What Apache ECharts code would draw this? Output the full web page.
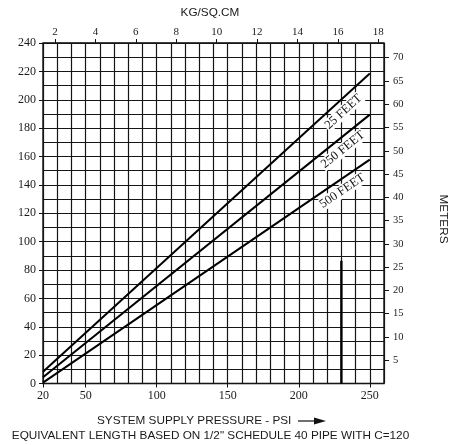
<!DOCTYPE html>
<html>
<head>
<meta charset="utf-8">
<script src="https://cdn.jsdelivr.net/npm/echarts@6.0.0/dist/echarts.min.js"></script>
<style>
  html, body { margin: 0; padding: 0; background: #fff; }
  #chart { width: 453px; height: 445px; }
</style>
</head>
<body>
<div id="chart"></div>
<script>
// ---- data ----
const pressurePsi = [20, 250];            // x of the line end points (psi)
const loss25ft   = [8.3, 218.5];          // left axis value at those points
const loss250ft  = [4.4, 189.5];
const loss500ft  = [0.6, 157.8];
const lineLabels = ['25 FEET', '250 FEET', '500 FEET'];
const markerPsi  = [230, 230];            // vertical reference mark
const markerVal  = [0, 86.5];
const psiTickLabels   = [20, 50, 100, 150, 200, 250];
const kgTickLabels    = [2, 4, 6, 8, 10, 12, 14, 16, 18];
const meterTickLabels = [5, 10, 15, 20, 25, 30, 35, 40, 45, 50, 55, 60, 65, 70];
const leftMin = 0, leftMax = 240, leftStep = 20;
const psiMin = 20, psiMax = 260, psiStep = 10;
const PSI_PER_KG = 14.223;
const FT_PER_M = 3.2808;

const serif = '"Liberation Serif", "DejaVu Serif", serif';
const sans = '"Liberation Sans", Arial, sans-serif';
const ink = '#1a1a1a';
const gridInk = '#151515';

function pairs(xs, ys) { return xs.map((x, i) => [x, ys[i]]); }

const chart = echarts.init(document.getElementById('chart'), null, { renderer: 'canvas' });

const lineSeries = [loss25ft, loss250ft, loss500ft].map((vals, i) => ({
  name: lineLabels[i],
  type: 'line',
  xAxisIndex: 0, yAxisIndex: 0,
  data: pairs(pressurePsi, vals),
  symbol: 'none',
  lineStyle: { color: '#000', width: 2 },
  silent: true,
  z: 5
}));

chart.setOption({
  animation: false,
  backgroundColor: '#fff',
  grid: {
    left: 43, right: 69, top: 43, bottom: 61.5,
    show: true, borderColor: '#000', borderWidth: 1.3, backgroundColor: 'transparent'
  },
  xAxis: [
    { // grid lines every 10 psi
      type: 'value', position: 'bottom', min: psiMin, max: psiMax, interval: psiStep,
      axisLine: { show: false }, axisTick: { show: false }, axisLabel: { show: false },
      splitLine: { show: true, lineStyle: { color: gridInk, width: 1.2 } }
    },
    { // psi labels
      type: 'value', position: 'bottom', min: psiMin, max: psiMax,
      axisLine: { show: false },
      axisTick: { show: true, customValues: psiTickLabels, length: 4, lineStyle: { color: '#111' } },
      axisLabel: { show: true, customValues: psiTickLabels, margin: 6,
        fontFamily: serif, fontSize: 12, color: ink },
      splitLine: { show: false }
    },
    { // kg/cm2 on top
      type: 'value', position: 'top', min: psiMin / PSI_PER_KG, max: psiMax / PSI_PER_KG,
      axisLine: { show: false },
      axisTick: { show: true, customValues: kgTickLabels, length: 4, lineStyle: { color: '#111' } },
      axisLabel: { show: true, customValues: kgTickLabels, margin: 5,
        fontFamily: serif, fontSize: 11, color: ink },
      splitLine: { show: false }
    }
  ],
  yAxis: [
    {
      type: 'value', position: 'left', min: leftMin, max: leftMax, interval: leftStep,
      axisLine: { show: false },
      axisTick: { show: true, length: 4, lineStyle: { color: '#111' } },
      axisLabel: { margin: 7, fontFamily: serif, fontSize: 12, color: ink },
      splitLine: { show: true, lineStyle: { color: gridInk, width: 1.2 } },
      minorTick: { show: false, splitNumber: 2 },
      minorSplitLine: { show: true, lineStyle: { color: gridInk, width: 1.2 } }
    },
    {
      type: 'value', position: 'right', min: leftMin / FT_PER_M, max: leftMax / FT_PER_M,
      axisLine: { show: false },
      axisTick: { show: true, customValues: meterTickLabels, length: 5, lineStyle: { color: '#111' } },
      axisLabel: { show: true, customValues: meterTickLabels, margin: 9,
        fontFamily: serif, fontSize: 10.5, color: ink },
      splitLine: { show: false }
    }
  ],
  series: lineSeries.concat([{
    name: 'marker',
    type: 'line',
    xAxisIndex: 0, yAxisIndex: 0,
    data: pairs(markerPsi, markerVal),
    symbol: 'none',
    lineStyle: { color: '#000', width: 2.4 },
    silent: true,
    z: 5
  }])
});

// ---- line labels, placed along each line through the axes ----
const labelPsi = 226.5;
const labelGap = 10.5;
const graphics = [];
[loss25ft, loss250ft, loss500ft].forEach((vals, i) => {
  const p0 = chart.convertToPixel({ xAxisIndex: 0, yAxisIndex: 0 }, [pressurePsi[0], vals[0]]);
  const p1 = chart.convertToPixel({ xAxisIndex: 0, yAxisIndex: 0 }, [pressurePsi[1], vals[1]]);
  const t = (labelPsi - pressurePsi[0]) / (pressurePsi[1] - pressurePsi[0]);
  const px = p0[0] + (p1[0] - p0[0]) * t;
  const py = p0[1] + (p1[1] - p0[1]) * t;
  const ang = Math.atan2(p0[1] - p1[1], p1[0] - p0[0]); // screen angle, anticlockwise
  graphics.push({
    type: 'text',
    x: px + Math.sin(ang) * labelGap,
    y: py + Math.cos(ang) * labelGap,
    rotation: ang,
    z: 10,
    style: {
      text: lineLabels[i],
      font: '12.5px ' + serif,
      fill: '#111',
      align: 'center',
      verticalAlign: 'middle',
      backgroundColor: '#fff',
      padding: [0, 1]
    }
  });
});

// ---- titles ----
graphics.push(
  { type: 'text', x: 210, y: 13, z: 10,
    style: { text: 'KG/SQ.CM', font: '11.75px ' + sans, fill: ink, align: 'center', verticalAlign: 'middle' } },
  { type: 'text', x: 443, y: 219, rotation: -Math.PI / 2, z: 10,
    style: { text: 'METERS', font: '11.75px ' + sans, fill: ink, align: 'center', verticalAlign: 'middle' } },
  { type: 'text', x: 97, y: 421, z: 10,
    style: { text: 'SYSTEM SUPPLY PRESSURE - PSI', font: '11.75px ' + sans, fill: ink, align: 'left', verticalAlign: 'middle' } },
  { type: 'line', z: 10, shape: { x1: 298, y1: 421, x2: 316, y2: 421 }, style: { stroke: '#111', lineWidth: 1.2 } },
  { type: 'polygon', z: 10, shape: { points: [[314, 417.5], [326, 421], [314, 424.5]] }, style: { fill: '#111' } },
  { type: 'text', x: 210.5, y: 436, z: 10,
    style: { text: 'EQUIVALENT LENGTH BASED ON 1/2" SCHEDULE 40 PIPE WITH C=120', font: '11.75px ' + sans, fill: ink, align: 'center', verticalAlign: 'middle' } }
);

chart.setOption({ graphic: graphics });
</script>
</body>
</html>
